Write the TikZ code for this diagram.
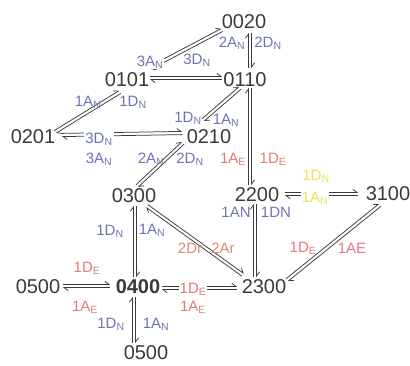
\documentclass[tikz,border=0pt]{standalone}
\usepackage{fontspec}
\setmainfont{Liberation Sans}
\usetikzlibrary{calc,arrows.meta}
\definecolor{ink}{HTML}{3A3A3A}
\definecolor{lblue}{HTML}{6E74B0}
\definecolor{lred}{HTML}{E07B78}
\definecolor{lora}{HTML}{D98A6C}
\definecolor{lyel}{HTML}{EEE25A}
\newcommand\eqoff{1.6pt}
\newcommand\ls[1]{\textsubscript{#1}}
\newcommand\eqarr[2]{%
  \coordinate (ea) at (#1);
  \coordinate (eb) at (#2);
  \draw[rx] ($(ea)!\eqoff!90:(eb)$) -- ($(eb)!\eqoff!-90:(ea)$);
  \draw[rx] ($(eb)!\eqoff!90:(ea)$) -- ($(ea)!\eqoff!-90:(eb)$);
}
\begin{document}
\begin{tikzpicture}[x=1pt,y=-1pt,
  st/.style={font=\fontsize{20}{22}\selectfont, text=ink, inner sep=0pt},
  lb/.style={font=\fontsize{15}{17}\selectfont, inner sep=1pt},
  bl/.style={lb,text=lblue}, rd/.style={lb,text=lred},
  og/.style={lb,text=lora}, yl/.style={lb,text=lyel},
  wb/.style={fill=white},
  rx/.style={draw=ink, line width=0.75pt, -{Straight Barb[left,length=4pt,width=6pt]}}]
\useasboundingbox (0,0) rectangle (410,365);
% states
\node[st] (n0020) at (244,22) {0020};
\node[st] (n0110) at (245,80) {0110};
\node[st] (n0101) at (127,80) {0101};
\node[st] (n0201) at (33,137) {0201};
\node[st] (n0210) at (209,137) {0210};
\node[st] (n0300) at (134,196) {0300};
\node[st] (n2200) at (257,195) {2200};
\node[st] (n3100) at (388,194) {3100};
\node[st] (n0500a) at (38,287) {0500};
\node[st,font=\fontsize{20}{22}\selectfont\bfseries] (n0400) at (138,287) {0400};
\node[st] (n2300) at (264,287) {2300};
\node[st] (n0500b) at (146,353) {0500};
% transitions
\eqarr{$(n0101)+(23,-12)$}{$(n0020)+(-22,8)$}
\eqarr{$(n0101)+(23,-2)$}{$(n0110)+(-23,-2)$}
\eqarr{$(n0020)+(6,11)$}{$(n0110)+(5,-12)$}
\eqarr{$(n0101)+(-7,12)$}{$(n0201)+(22,-5)$}
\eqarr{$(n0110)+(-5,8)$}{$(n0210)+(-6,-17)$}
\eqarr{$(n0201)+(29,-2)$}{$(n0210)+(-27,-4)$}
\eqarr{$(n0210)+(-26,6)$}{$(n0300)+(3,-10)$}
\eqarr{$(n0110)+(5,8)$}{$(n2200)+(-7,-10)$}
\eqarr{$(n2200)+(28,-1)$}{$(n3100)+(-30,0)$}
\eqarr{$(n2200)+(-2,9)$}{$(n2300)+(-9,-10)$}
\eqarr{$(n3100)+(-8,11)$}{$(n2300)+(23,-7)$}
\eqarr{$(n0300)+(13,10)$}{$(n2300)+(-21,-12)$}
\eqarr{$(n0300)+(1,10)$}{$(n0400)+(-3,-10)$}
\eqarr{$(n0500a)+(25,-1)$}{$(n0400)+(-28,-1)$}
\eqarr{$(n0400)+(24,1)$}{$(n2300)+(-27,1)$}
\eqarr{$(n0400)+(-4,10)$}{$(n0500b)+(-12,-10)$}
% labels
\node[bl,wb] (l1) at (150,62) {3A\ls{N}};
\node[bl] (l2) at (197,60) {3D\ls{N}};
\node[bl] (l3) at (232,43) {2A\ls{N}};
\node[bl] (l4) at (268,43) {2D\ls{N}};
\node[bl] (l5) at (88,102) {1A\ls{N}};
\node[bl] (l6) at (133,102) {1D\ls{N}};
\node[bl] (l7) at (188,118) {1D\ls{N}};
\node[bl] (l8) at (226,120) {1A\ls{N}};
\node[bl,wb] (l9) at (99,139) {3D\ls{N}};
\node[bl] (l10) at (99,159) {3A\ls{N}};
\node[bl] (l11) at (151,159) {2A\ls{N}};
\node[bl] (l12) at (190,159) {2D\ls{N}};
\node[bl] (l13) at (236,212) {1AN};
\node[bl] (l14) at (276,212) {1DN};
\node[bl] (l15) at (110,231) {1D\ls{N}};
\node[bl] (l16) at (152,230) {1A\ls{N}};
\node[bl] (l17) at (111,324) {1D\ls{N}};
\node[bl] (l18) at (156,324) {1A\ls{N}};
\node[rd] (l19) at (233,159) {1A\ls{E}};
\node[rd] (l20) at (273,159) {1D\ls{E}};
\node[rd] (l21) at (303,248) {1D\ls{E}};
\node[rd] (l22) at (352,248) {1AE};
\node[rd] (l23) at (87,268) {1D\ls{E}};
\node[rd] (l24) at (85,307) {1A\ls{E}};
\node[rd,wb] (l25) at (193,289) {1D\ls{E}};
\node[rd] (l26) at (193,307) {1A\ls{E}};
\node[og] (l27) at (190,248) {2Dr};
\node[og] (l28) at (223,248) {2Ar};
\node[yl] (l29) at (316,176) {1D\ls{N}};
\node[yl,wb,inner sep=0.5pt] (l30) at (315,198) {1A\ls{N}};
\end{tikzpicture}
\end{document}
